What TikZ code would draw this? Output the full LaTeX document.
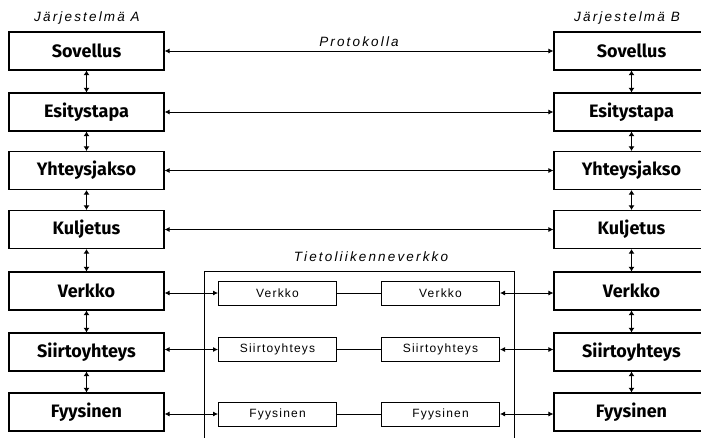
\documentclass[tikz,border=0pt]{standalone}
\usepackage{fontspec}
\setmainfont{Fira Sans}
\newfontfamily\smallfont[LetterSpace=10]{Liberation Sans}
\newfontfamily\titlefont[LetterSpace=16]{Liberation Sans}
\usetikzlibrary{arrows.meta}
\begin{document}
\begin{tikzpicture}[x=1pt,y=-1pt,
  bigbox/.style={draw, line width=1.2pt, minimum width=155pt, minimum height=38pt, inner sep=0pt, font=\fontsize{18}{20}\selectfont\bfseries},
  smallbox/.style={draw, line width=1pt, minimum width=118pt, minimum height=24pt, inner sep=0pt, font=\smallfont\fontsize{12}{14}\selectfont},
  ttl/.style={font=\titlefont\itshape\fontsize{13.5}{15}\selectfont, inner sep=0pt},
  conn/.style={line width=0.8pt, {Latex[length=5pt,width=5pt]}-{Latex[length=5pt,width=5pt]}},
  vconn/.style={line width=1.2pt, {Latex[length=4.5pt,width=6pt]}-{Latex[length=4.5pt,width=6pt]}},
  plain/.style={line width=0.8pt}]
\useasboundingbox (0,0) rectangle (701,437);
\clip (0,0) rectangle (701,437);
\fill[white] (0,0) rectangle (701,437);
% titles
\node[ttl] (ta) at (87,18) {Järjestelmä A};
\node[ttl] (tb) at (627,18) {Järjestelmä B};
% left stack
\node[bigbox] (a1) at (86.5,51) {Sovellus};
\node[bigbox] (a2) at (86.5,112) {Esitystapa};
\node[bigbox] (a3) at (86.5,170.5) {Yhteysjakso};
\node[bigbox] (a4) at (86.5,229.5) {Kuljetus};
\node[bigbox] (a5) at (86.5,291) {Verkko};
\node[bigbox] (a6) at (86.5,352) {Siirtoyhteys};
\node[bigbox] (a7) at (86.5,412) {Fyysinen};
% right stack
\node[bigbox] (b1) at (631.5,51) {Sovellus};
\node[bigbox] (b2) at (631.5,112) {Esitystapa};
\node[bigbox] (b3) at (631.5,170.5) {Yhteysjakso};
\node[bigbox] (b4) at (631.5,229.5) {Kuljetus};
\node[bigbox] (b5) at (631.5,291) {Verkko};
\node[bigbox] (b6) at (631.5,352) {Siirtoyhteys};
\node[bigbox] (b7) at (631.5,412) {Fyysinen};
% vertical connectors
\foreach \i/\j in {1/2,2/3,3/4,4/5,5/6,6/7}{
  \draw[vconn] (a\i.south) -- (a\j.north);
  \draw[vconn] (b\i.south) -- (b\j.north);
}
% peer connections
\draw[conn] (a1.east) -- node[ttl, above=4pt, pos=0.5] (proto) {Protokolla} (b1.west);
\draw[conn] (a2.east) -- (b2.west);
\draw[conn] (a3.east) -- (b3.west);
\draw[conn] (a4.east) -- (b4.west);
% network
\coordinate (nbl) at (204,445);
\coordinate (ntl) at (204,271);
\coordinate (ntr) at (514,271);
\coordinate (nbr) at (514,445);
\draw[line width=1pt] (nbl) -- (ntl) -- (ntr) -- (nbr);
\node[ttl] (net) at (371,257) {Tietoliikenneverkko};
\node[smallbox] (l5) at (277.5,293) {Verkko};
\node[smallbox] (l6) at (277.5,349.5) {Siirtoyhteys};
\node[smallbox] (l7) at (277.5,414) {Fyysinen};
\node[smallbox] (r5) at (440.5,293) {Verkko};
\node[smallbox] (r6) at (440.5,349.5) {Siirtoyhteys};
\node[smallbox] (r7) at (440.5,414) {Fyysinen};
\foreach \i in {5,6,7}{
  \draw[plain] (l\i.east) -- (r\i.west);
  \draw[conn] (a\i.east |- l\i.west) -- (l\i.west);
  \draw[conn] (r\i.east) -- (b\i.west |- r\i.east);
}
\end{tikzpicture}
\end{document}
